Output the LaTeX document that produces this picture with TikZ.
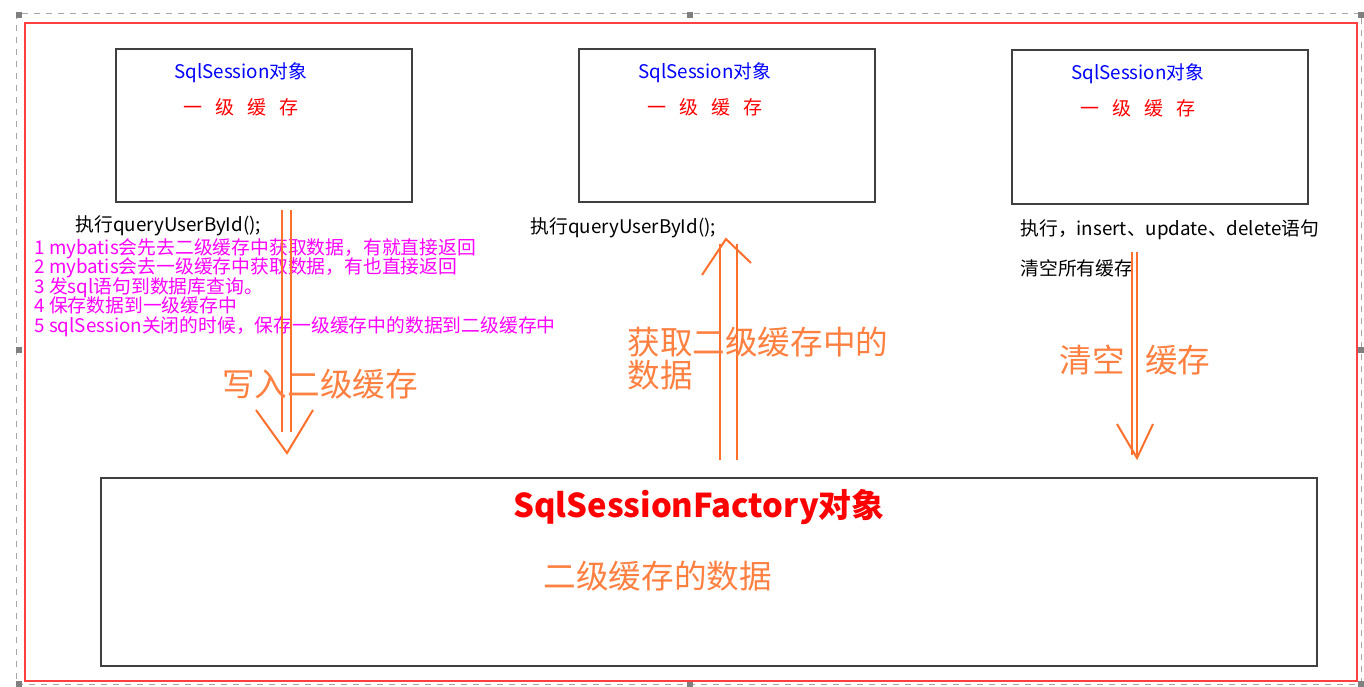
\documentclass[tikz,border=0pt]{standalone}
\usepackage{fontspec}
\setmainfont{Noto Sans CJK SC}
\usepackage{xcolor}
\usetikzlibrary{positioning}
\definecolor{framered}{RGB}{255,64,64}
\definecolor{lineor}{RGB}{255,112,45}
\definecolor{txtor}{RGB}{255,128,64}
\definecolor{notemag}{RGB}{255,0,255}
\newcommand{\gap}{\hspace{6.5pt}}

\begin{document}
\begin{tikzpicture}[
  x=0.5pt, y=-0.5pt,
  box/.style ={draw=black!75, line width=0.8pt, anchor=north west, inner sep=0pt},
  head/.style={text=blue, inner sep=0pt, font=\fontsize{9.4}{11}\selectfont},
  lvl/.style ={text=red, inner sep=0pt, font=\fontsize{9.5}{11}\selectfont},
  code/.style={anchor=west, inner sep=0pt, font=\fontsize{9.4}{11}\selectfont},
  note/.style={text=notemag, anchor=north west, align=left, inner sep=0pt,
               font={\fontsize{9.4}{9.75}\selectfont\lineskiplimit=-6pt}},
  big/.style ={text=txtor, inner sep=0pt, font=\fontsize{16.3}{16.5}\selectfont},
  oline/.style={draw=lineor, line width=1pt}
]
\useasboundingbox (0,0) rectangle (1364,686);

%% selection outline
\draw[gray!70, dashed, line width=0.4pt] (16,13) rectangle (1361,684);
\foreach \hx/\hy in {16/12, 687/12, 1358/12, 16/347, 1358/347, 16/681, 687/681, 1358/681}
  \fill[gray] (\hx,\hy) rectangle ++(6,6);

%% ---- frame ----
\node[draw=framered, line width=1pt, anchor=north west, inner sep=0pt,
      minimum width=666pt, minimum height=329pt] (frame) at (24,22) {};

%% ---- SqlSession boxes ----
\node[box, minimum width=148pt, minimum height=76.5pt] (s1) at (115,48) {};
\node[box, minimum width=148pt, minimum height=76.5pt] (s2) at (578,48) {};
\node[box, minimum width=148pt, minimum height=77pt]   (s3) at (1011,49) {};

\node[head] (h1) at ([shift={(-23,25)}]s1.north) {SqlSession对象};
\node[head] (h2) at ([shift={(-22,25)}]s2.north) {SqlSession对象};
\node[head] (h3) at ([shift={(-22,25)}]s3.north) {SqlSession对象};
\node[lvl]  (l1) at ([shift={(-23,59)}]s1.north) {一\gap 级\gap 缓\gap 存};
\node[lvl]  (l2) at ([shift={(-22,59)}]s2.north) {一\gap 级\gap 缓\gap 存};
\node[lvl]  (l3) at ([shift={(-22,59)}]s3.north) {一\gap 级\gap 缓\gap 存};

%% ---- SqlSessionFactory ----
\node[box, minimum width=608pt, minimum height=94pt] (f) at (100,477) {};
\node[text=red, inner sep=0pt, font=\bfseries\fontsize{16.4}{18}\selectfont]
  (ft) at ([shift={(-10,30)}]f.north) {SqlSessionFactory对象};
\node[big] (fd) at ([shift={(-51,99)}]f.north) {二级缓存的数据};

%% ---- statements ----
\node[code] (e1) at ([shift={(-40,23)}]s1.south west) {执行queryUserById();};
\node[code] (e2) at ([shift={(-48,25)}]s2.south west) {执行queryUserById();};
\node[code] (e3) at ([shift={(9,25)}]s3.south west) {执行，insert、update、delete语句};
\node[code, below=19.5pt of e3.west, anchor=west] (c3) {清空所有缓存};

\node[note] (steps) at (34,238) {1 mybatis会先去二级缓存中获取数据，有就直接返回\\
2 mybatis会去一级缓存中获取数据，有也直接返回\\
3 发sql语句到数据库查询。\\
4 保存数据到一级缓存中\\
5 sqlSession关闭的时候，保存一级缓存中的数据到二级缓存中};

%% ---- arrows ----
\coordinate (a1)  at (286.5,210);
\coordinate (a1t) at (287,453);
\coordinate (a2)  at (728.5,460);
\coordinate (a2t) at (726,239);
\coordinate (a3)  at (1134.5,252);
\coordinate (a3t) at (1137,458);

\foreach \dx in {-4.5,4.5}
  \draw[oline] ([shift={(\dx,0)}]a1) -- ([shift={(\dx,222)}]a1);
\draw[oline] ([shift={(-31,-43)}]a1t) -- (a1t) -- ([shift={(26,-43)}]a1t);

\foreach \dx in {-8.5,8.5}
  \draw[oline] ([shift={(\dx,0)}]a2) -- ([shift={(\dx,-216)}]a2);
\draw[oline] ([shift={(-24,36)}]a2t) -- (a2t) -- ([shift={(25,24)}]a2t);

\foreach \dx in {-2.75,2.75}
  \draw[oline] ([shift={(\dx,0)}]a3) -- ([shift={(\dx,203)}]a3);
\draw[oline] ([shift={(-20,-34)}]a3t) -- (a3t) -- ([shift={(16,-34)}]a3t);

%% ---- arrow labels ----
\node[big] (wr) at (320,384) {写入二级缓存};
\node[big, anchor=north west, align=left] (rd) at (627,327) {获取二级缓存中的\\数据};
\node[big] (cl) at (1135,360) {清空\hspace{10pt}缓存};

\end{tikzpicture}
\end{document}
